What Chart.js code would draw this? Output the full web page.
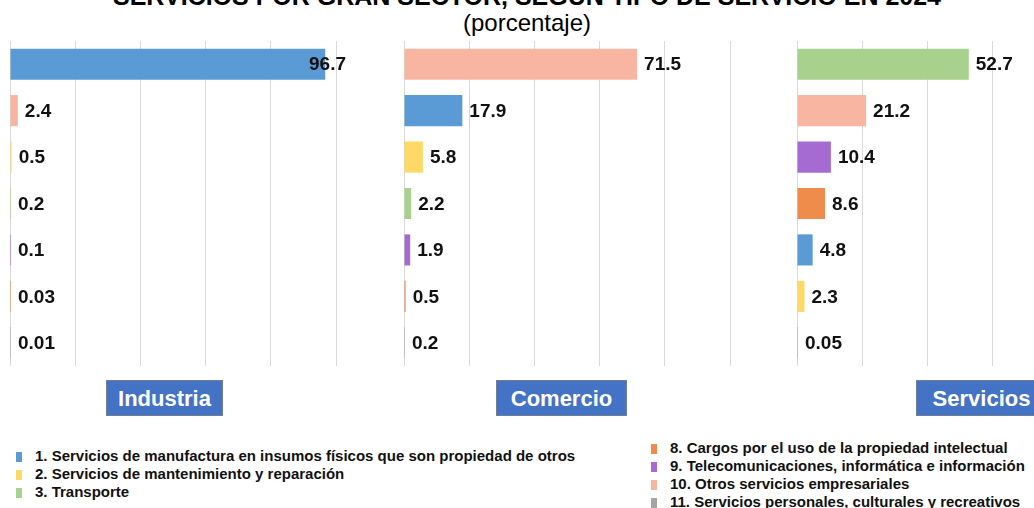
<!DOCTYPE html>
<html>
<head>
<meta charset="utf-8">
<script src="https://cdn.jsdelivr.net/npm/chart.js"></script>
<style>
body { margin: 0; width: 1034px; height: 508px; overflow: hidden; background: #fff; position: relative; font-family: "Liberation Sans", Arial, sans-serif; }
.abs { position: absolute; }
#title { top: -16px; left: 10px; width: 1034px; text-align: center; font-weight: bold; font-size: 25px; line-height: 25px; color: #000; white-space: nowrap; }
#subtitle { top: 9px; left: 10px; width: 1034px; text-align: center; font-size: 24px; line-height: 28px; color: #000; }
.box { height: 34px; background: #4472c4; border: 1px solid #6f7f99; color: #fff; font-weight: bold; font-size: 22px; line-height: 35px; text-align: center; }
.leg { font-weight: bold; font-size: 15px; line-height: 18px; color: #111; white-space: nowrap; }
.leg span.sw { display: inline-block; width: 6px; height: 10px; margin-right: 13px; vertical-align: -1px; }
</style>
</head>
<body>
<div id="title" class="abs">SERVICIOS POR GRAN SECTOR, SEGÚN TIPO DE SERVICIO EN 2024</div>
<div id="subtitle" class="abs">(porcentaje)</div>
<canvas id="c0" class="abs" width="368" height="327" style="left:9px;top:40px"></canvas>
<canvas id="c1" class="abs" width="368" height="327" style="left:403px;top:40px"></canvas>
<canvas id="c2" class="abs" width="368" height="327" style="left:796px;top:40px"></canvas>
<div id="b0" class="abs box" style="left:106px;top:380px;width:115px"></div>
<div id="b1" class="abs box" style="left:496px;top:380px;width:129px"></div>
<div id="b2" class="abs box" style="left:916px;top:380px;width:129px"></div>
<div id="legL" class="abs" style="left:16px;top:447px"></div>
<div id="legR" class="abs" style="left:651px;top:439px"></div>
<script>
// datos
const sectors = ["Industria", "Comercio", "Servicios"];
const industriaCats = ["1", "10", "2", "3", "9", "8", "11"];
const industriaValues = [96.7, 2.4, 0.5, 0.2, 0.1, 0.03, 0.01];
const comercioCats = ["10", "1", "2", "3", "9", "8", "11"];
const comercioValues = [71.5, 17.9, 5.8, 2.2, 1.9, 0.5, 0.2];
const serviciosCats = ["3", "10", "9", "8", "1", "2", "11"];
const serviciosValues = [52.7, 21.2, 10.4, 8.6, 4.8, 2.3, 0.05];
const xMax = 100;
const xStep = 20;

const legendLeft = ["1", "2", "3"];
const legendRight = ["8", "9", "10", "11"];
const typeNames = {
  "1": "1. Servicios de manufactura en insumos físicos que son propiedad de otros",
  "2": "2. Servicios de mantenimiento y reparación",
  "3": "3. Transporte",
  "8": "8. Cargos por el uso de la propiedad intelectual",
  "9": "9. Telecomunicaciones, informática e información",
  "10": "10. Otros servicios empresariales",
  "11": "11. Servicios personales, culturales y recreativos"
};

// colores por tipo
const typeColors = {
  "1": "#5b9bd5",
  "2": "#ffd966",
  "3": "#a9d18e",
  "8": "#f08c4b",
  "9": "#a66bd3",
  "10": "#f8b5a1",
  "11": "#a5a5a5"
};

// etiquetas de valor al final de cada barra
const valueLabels = {
  id: "valueLabels",
  afterDatasetsDraw(chart) {
    const ctx = chart.ctx;
    const area = chart.chartArea;
    const meta = chart.getDatasetMeta(0);
    const vals = chart.data.datasets[0].data;
    ctx.save();
    ctx.font = "bold 19px 'Liberation Sans', Arial, sans-serif";
    ctx.fillStyle = "#111";
    ctx.textBaseline = "middle";
    meta.data.forEach((bar, i) => {
      const txt = String(vals[i]);
      const w = ctx.measureText(txt).width;
      let x = bar.x + 7;
      if (x + w > area.right + 10) x = area.right + 10 - w;
      ctx.fillText(txt, x, bar.y + 1);
    });
    ctx.restore();
  }
};

function renderPanel(id, cats, values) {
  new Chart(document.getElementById(id), {
    type: "bar",
    data: {
      labels: cats,
      datasets: [{
        data: values,
        backgroundColor: cats.map(c => typeColors[c]),
        barPercentage: 0.67,
        categoryPercentage: 1,
        minBarLength: 1
      }]
    },
    options: {
      indexAxis: "y",
      responsive: false,
      animation: false,
      devicePixelRatio: 1,
      layout: { padding: { left: 1, right: 41, top: 1, bottom: 1 } },
      plugins: { legend: { display: false }, tooltip: { enabled: false } },
      scales: {
        x: {
          min: 0, max: xMax,
          ticks: { display: false, stepSize: xStep },
          grid: { color: "#d9d9d9", lineWidth: 1, drawTicks: false },
          border: { display: false }
        },
        y: { display: false }
      }
    },
    plugins: [valueLabels]
  });
}

function addLegend(id, keys) {
  const el = document.getElementById(id);
  keys.forEach(k => {
    const d = document.createElement("div");
    d.className = "leg";
    d.innerHTML = `<span class="sw" style="background:${typeColors[k]}"></span>${typeNames[k]}`;
    el.appendChild(d);
  });
}

renderPanel("c0", industriaCats, industriaValues);
renderPanel("c1", comercioCats, comercioValues);
renderPanel("c2", serviciosCats, serviciosValues);
sectors.forEach((s, i) => document.getElementById("b" + i).innerText = s);
addLegend("legL", legendLeft);
addLegend("legR", legendRight);
</script>
</body>
</html>
